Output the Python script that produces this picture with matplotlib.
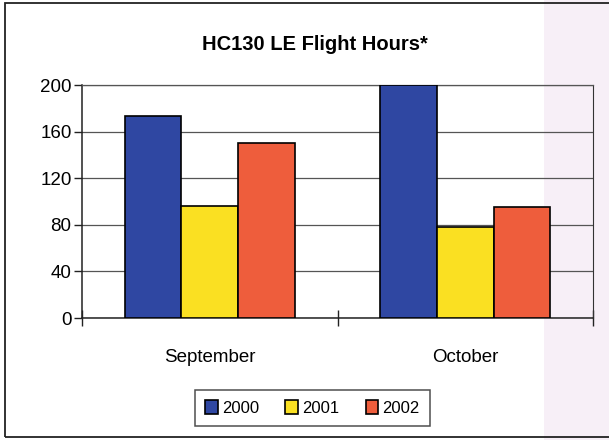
import numpy as np
import matplotlib.pyplot as plt
from matplotlib.patches import Rectangle

# data
months = ['September', 'October']
years = ['2000', '2001', '2002']
hours_2000 = [173, 200]
hours_2001 = [96, 78]
hours_2002 = [150, 95]
yticks = [0, 40, 80, 120, 160, 200]

colors = ['#2f47a2', '#fae022', '#ee5d3c']
series = [hours_2000, hours_2001, hours_2002]

plt.rcParams['font.family'] = ['Liberation Sans', 'DejaVu Sans']

fig = plt.figure(figsize=(6.09, 4.40), dpi=100)
fig.patch.set_facecolor('white')

# scan tint on the right side and outer frame
fig.patches.append(Rectangle((544 / 609, 0), 1, 1, transform=fig.transFigure,
                             facecolor='#f7eff7', edgecolor='none', zorder=0))
fig.patches.append(Rectangle((5 / 609, 3 / 440), 1.0, 434 / 440, transform=fig.transFigure,
                             facecolor='none', edgecolor='#222222', lw=1.3, zorder=1))

ax = fig.add_axes([82 / 609, 1 - 318 / 440, (593 - 82) / 609, (318 - 85) / 440])
ax.patch.set_alpha(0)
ax.set_zorder(2)

x = np.arange(len(months))
w = 0.222
for i, (vals, c, lab) in enumerate(zip(series, colors, years)):
    ax.bar(x + (i - 1) * w, vals, width=w, color=c, edgecolor='black',
           linewidth=1.2, label=lab, zorder=3)

ax.set_xlim(-0.5, 1.5)
ax.set_ylim(0, 200)
ax.set_yticks(yticks)
ax.yaxis.grid(True, color='#555555', linewidth=0.9, zorder=0)
ax.set_axisbelow(True)

# category boundary ticks (major) and category labels (minor)
ax.set_xticks([-0.5, 0.5, 1.5])
ax.set_xticklabels([])
ax.set_xticks(x, minor=True)
ax.set_xticklabels(months, minor=True, fontsize=13.5)
ax.tick_params(axis='x', which='major', direction='inout', length=12, width=1, color='#222222')
ax.tick_params(axis='x', which='minor', length=0, pad=22)
ax.tick_params(axis='y', direction='out', length=5.5, width=1, color='#222222',
               labelsize=13.5, pad=2)

for s in ['left', 'bottom']:
    ax.spines[s].set_color('#222222')
    ax.spines[s].set_linewidth(1.1)
ax.spines['right'].set_color('#333333')
ax.spines['top'].set_color('#555555')
ax.spines['top'].set_linewidth(0.9)

fig.text(0.517, 1 - 45 / 440, 'HC130 LE Flight Hours*', ha='center', va='center',
         fontsize=14.5, fontweight='bold')

leg = fig.legend(loc='center', bbox_to_anchor=(0.513, 1 - 408 / 440), ncol=3,
                 fontsize=12, frameon=True, fancybox=False, handlelength=0.75,
                 handleheight=0.9, handletextpad=0.25, columnspacing=1.6,
                 borderpad=0.6)
leg.get_frame().set_edgecolor('#222222')
leg.get_frame().set_linewidth(1.1)

fig.savefig('out.png', dpi=100)
